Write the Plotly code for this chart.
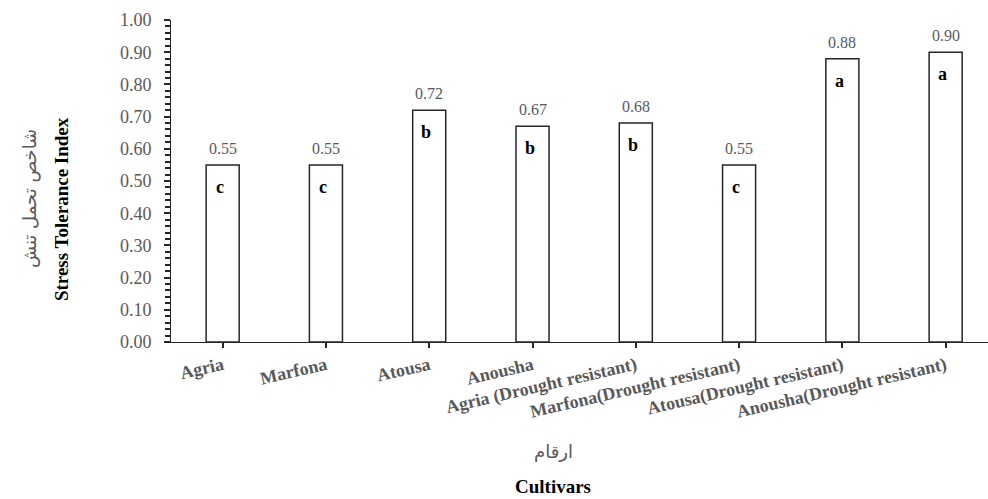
import plotly.graph_objects as go

# Cultivars and their stress tolerance index (STI)
cultivars = [
    "Agria", "Marfona", "Atousa", "Anousha",
    "Agria (Drought resistant)", "Marfona(Drought resistant)",
    "Atousa(Drought resistant)", "Anousha(Drought resistant)",
]
sti_values = [0.55, 0.55, 0.72, 0.67, 0.68, 0.55, 0.88, 0.90]
group_letters = ["c", "c", "b", "b", "b", "c", "a", "a"]

y_min, y_max, y_step, y_minor_step = 0.0, 1.0, 0.1, 0.02

SERIF = "Liberation Serif, Times New Roman, serif"
ARABIC = "DejaVu Sans, Noto Sans, sans-serif"
GRAY = "#595959"
AXIS = "#262626"

fig = go.Figure()

fig.add_trace(go.Bar(
    x=cultivars,
    y=sti_values,
    width=0.32,
    marker=dict(color="white", line=dict(color="#262626", width=1.5)),
    showlegend=False,
    hoverinfo="x+y",
))

# Value labels above bars and significance letters inside their tops
for name, val, letter in zip(cultivars, sti_values, group_letters):
    fig.add_annotation(
        x=name, y=val, text=f"{val:.2f}",
        showarrow=False, yanchor="bottom", yshift=6,
        font=dict(family=SERIF, size=16, color=GRAY),
    )
    fig.add_annotation(
        x=name, y=val, text=f"<b>{letter}</b>",
        showarrow=False, yanchor="top", yshift=-10, xshift=-3,
        font=dict(family=SERIF, size=18, color="black"),
    )

# Axis titles (Persian + English)
fig.add_annotation(
    xref="paper", yref="paper", x=-0.1726, y=0.447,
    xanchor="center", yanchor="middle",
    text="شاخص تحمل تنش", textangle=-90, showarrow=False,
    font=dict(family=ARABIC, size=18, color=GRAY),
)
fig.add_annotation(
    xref="paper", yref="paper", x=-0.1346, y=0.413,
    xanchor="center", yanchor="middle",
    text="<b>Stress Tolerance Index</b>", textangle=-90, showarrow=False,
    font=dict(family=SERIF, size=19, color="black"),
)
fig.add_annotation(
    xref="paper", yref="paper", x=0.4676, y=-0.3416,
    xanchor="center", yanchor="middle",
    text="ارقام", showarrow=False,
    font=dict(family=ARABIC, size=18, color=GRAY),
)
fig.add_annotation(
    xref="paper", yref="paper", x=0.4676, y=-0.448,
    xanchor="center", yanchor="middle",
    text="<b>Cultivars</b>", showarrow=False,
    font=dict(family=SERIF, size=19, color="black"),
)

fig.update_layout(
    width=988, height=499,
    margin=dict(l=171, r=0, t=20, b=157),
    plot_bgcolor="white", paper_bgcolor="white",
)

fig.update_xaxes(
    type="category",
    range=[-0.5, 7.41],
    showline=True, linecolor=AXIS,
    ticks="outside", ticklen=5, tickcolor=AXIS, tickwidth=2,
    tickangle=-13,
    tickfont=dict(family=SERIF, size=18, color=GRAY, weight="bold"),
)

fig.update_yaxes(
    range=[y_min, y_max],
    dtick=y_step,
    tickformat=".2f",
    showline=True, linecolor=AXIS,
    ticks="outside", ticklen=6, tickcolor=AXIS, tickwidth=2,
    minor=dict(dtick=y_minor_step, ticks="outside", ticklen=5, tickcolor=AXIS, tickwidth=1.5),
    tickfont=dict(family=SERIF, size=18, color=GRAY),
    ticksuffix="  ",
    zeroline=False,
)

fig.write_html("out.html")
